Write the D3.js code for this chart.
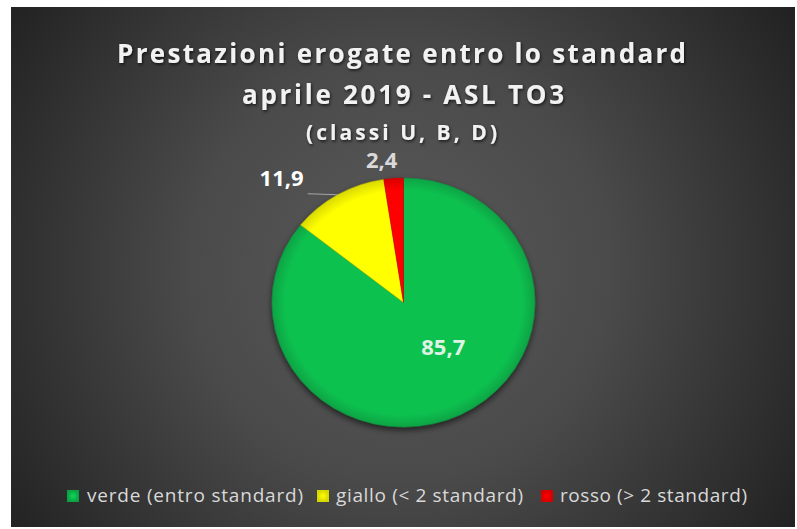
<!DOCTYPE html>
<html>
<head>
<meta charset="utf-8">
<script src="https://cdn.jsdelivr.net/npm/d3@7/dist/d3.min.js"></script>
<style>
  html, body { margin: 0; padding: 0; background: #ffffff; }
  svg { display: block; }
</style>
</head>
<body>
<svg id="chart" width="797" height="529"></svg>
<script>
// ---- data ----
const categories = ["verde (entro standard)", "giallo (< 2 standard)", "rosso (> 2 standard)"];
const values = [85.7, 11.9, 2.4];
const valueLabels = ["85,7", "11,9", "2,4"];
const titleLines = ["Prestazioni erogate entro lo standard", "aprile 2019 - ASL TO3", "(classi U, B, D)"];

// ---- styling / layout ----
const colors = ["#0DC150", "#FFFF00", "#FF0000"];
const frame = {x: 11, y: 7, w: 784, h: 520};
const cx = 403.5, cy = 302.5, rx = 131.5, ry = 124.5;
const FONT = "'Open Sans', Lato, sans-serif";

const svg = d3.select("#chart");
const defs = svg.append("defs");

const bg = defs.append("radialGradient").attr("id", "bg")
  .attr("gradientUnits", "userSpaceOnUse")
  .attr("cx", 400).attr("cy", 270).attr("r", 470);
bg.append("stop").attr("offset", "0%").attr("stop-color", "#5a5a5a");
bg.append("stop").attr("offset", "45%").attr("stop-color", "#4a4a4a");
bg.append("stop").attr("offset", "100%").attr("stop-color", "#222222");

const tsh = defs.append("filter").attr("id", "tshadow").attr("x", "-10%").attr("y", "-30%").attr("width", "120%").attr("height", "160%");
tsh.append("feDropShadow").attr("dx", 1).attr("dy", 1.5).attr("stdDeviation", 1.5).attr("flood-color", "#000").attr("flood-opacity", 0.7);

const psh = defs.append("filter").attr("id", "pshadow").attr("x", "-20%").attr("y", "-20%").attr("width", "140%").attr("height", "140%");
psh.append("feDropShadow").attr("dx", 0).attr("dy", 3).attr("stdDeviation", 3).attr("flood-color", "#000").attr("flood-opacity", 0.6);

colors.forEach((c, i) => {
  const g = defs.append("radialGradient").attr("id", "sl" + i)
    .attr("gradientUnits", "userSpaceOnUse").attr("cx", 0).attr("cy", 0).attr("r", ry);
  g.append("stop").attr("offset", "0%").attr("stop-color", c);
  g.append("stop").attr("offset", "90%").attr("stop-color", c);
  g.append("stop").attr("offset", "100%").attr("stop-color", d3.color(c).darker(0.45));
  const q = defs.append("radialGradient").attr("id", "sq" + i);
  q.append("stop").attr("offset", "0%").attr("stop-color", d3.color(c).brighter(0.3));
  q.append("stop").attr("offset", "100%").attr("stop-color", d3.color(c).darker(0.5));
});

// background frame
svg.append("rect").attr("x", frame.x).attr("y", frame.y).attr("width", frame.w).attr("height", frame.h)
  .attr("fill", "url(#bg)");

// title
const titleSizes = [26, 26, 21];
const titleBaselines = [63, 104, 140];
const titleSpans = [[117, 686], [242, 564], [306, 497]];
const tg = svg.append("g").attr("filter", "url(#tshadow)");
titleLines.forEach((t, i) => {
  tg.append("text")
    .attr("x", (titleSpans[i][0] + titleSpans[i][1]) / 2)
    .attr("y", titleBaselines[i])
    .attr("text-anchor", "middle")
    .attr("font-family", FONT)
    .attr("font-weight", "bold")
    .attr("font-size", titleSizes[i])
    .attr("fill", "#f2f2f2")
    .attr("textLength", titleSpans[i][1] - titleSpans[i][0])
    .attr("lengthAdjust", "spacing")
    .text(t);
});

// pie
const pie = d3.pie().sort(null).value(d => d)(values);
const arc = d3.arc().innerRadius(0).outerRadius(ry);
const pg = svg.append("g").attr("filter", "url(#pshadow)")
  .attr("transform", `translate(${cx},${cy}) scale(${rx / ry},1)`);
pg.selectAll("path").data(pie).join("path")
  .attr("d", arc)
  .attr("fill", (d, i) => `url(#sl${i})`)
  .attr("stroke", (d, i) => d3.color(colors[i]).darker(0.8))
  .attr("stroke-opacity", 0.5)
  .attr("stroke-width", 1)
  .attr("vector-effect", "non-scaling-stroke");

// labels
function ellipsePoint(angle, f) {
  return [cx + Math.sin(angle) * rx * f, cy - Math.cos(angle) * ry * f];
}
const labelLayout = [
  {f: 0.47, da: -0.25, dx: 0, dy: 8, anchor: "middle", color: "#dff3e5"},
  {f: 1.0, da: 0, dx: -34, dy: -9, anchor: "end", color: "#ffffff", leader: 30},
  {f: 1.0, da: 0, dx: -12, dy: -10, anchor: "middle", color: "#d9d9d9"}
];
const lg = svg.append("g");
pie.forEach((d, i) => {
  const L = labelLayout[i];
  const mid = (d.startAngle + d.endAngle) / 2 + L.da;
  const [px, py] = ellipsePoint(mid, L.f);
  if (L.leader) {
    lg.append("line").attr("x1", px).attr("y1", py).attr("x2", px - L.leader).attr("y2", py - 1)
      .attr("stroke", "#a6a6a6").attr("stroke-width", 1.2);
  }
  lg.append("text")
    .attr("x", px + L.dx).attr("y", py + L.dy)
    .attr("text-anchor", L.anchor)
    .attr("font-family", FONT)
    .attr("font-weight", "bold")
    .attr("font-size", 22)
    .attr("fill", L.color)
    .text(valueLabels[i]);
});

// legend
const legendSquares = [67, 317, 541];
const legendTextStart = [87, 336, 560];
const legendTextEnd = [303, 523, 747];
const legBase = 502;
const leg = svg.append("g");
categories.forEach((c, i) => {
  leg.append("rect").attr("x", legendSquares[i]).attr("y", legBase - 12).attr("width", 12).attr("height", 12)
    .attr("fill", `url(#sq${i})`);
  leg.append("text")
    .attr("x", legendTextStart[i]).attr("y", legBase)
    .attr("font-family", FONT)
    .attr("font-size", 19)
    .attr("fill", "#d9d9d9")
    .attr("textLength", legendTextEnd[i] - legendTextStart[i])
    .attr("lengthAdjust", "spacing")
    .text(c);
});
</script>
</body>
</html>
